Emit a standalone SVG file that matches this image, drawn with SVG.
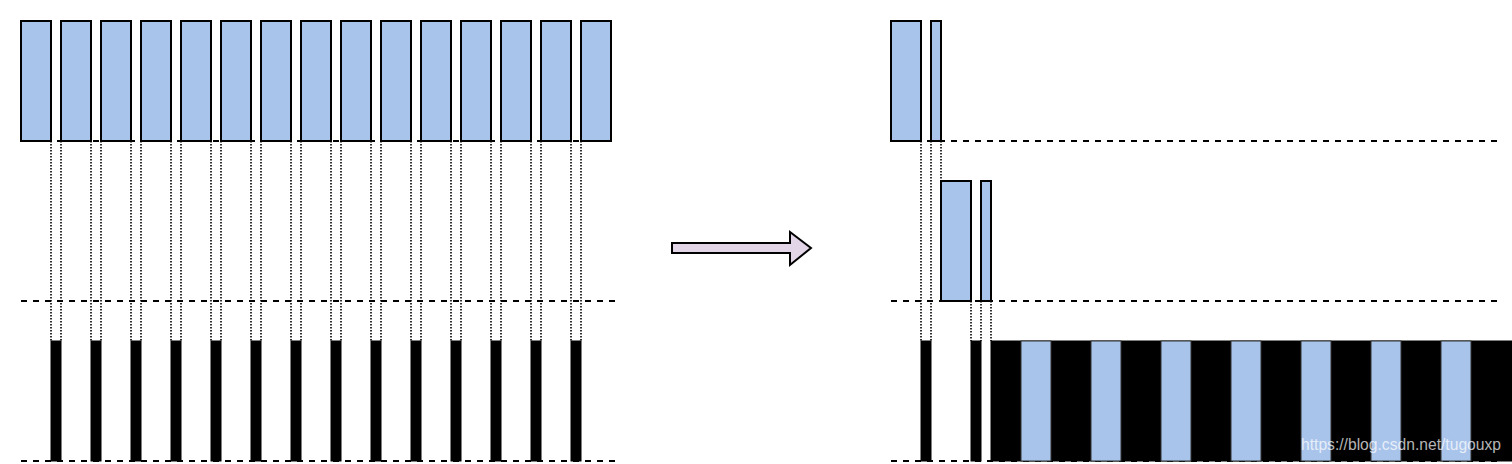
<svg xmlns="http://www.w3.org/2000/svg" width="1512" height="464" viewBox="0 0 1512 464">
<style>
.blue{fill:#a9c4eb;stroke:#000;stroke-width:2}
.blk{fill:#000;stroke:#000;stroke-width:1}
.dash{stroke:#000;stroke-width:2;stroke-dasharray:6 6;fill:none}
.dot{stroke:#000;stroke-width:1.6;stroke-dasharray:1.5 1.5;fill:none}
.wm{font-family:"Liberation Sans",Arial,sans-serif;font-size:16px;fill:#fff;fill-opacity:0.72}
</style>
<rect width="1512" height="464" fill="#fff"/>
<g id="connectors">
<path class="dash" d="M21 141H611M21 301H615M21 461H615M891 141H1497M891 301H1497M891 461H1497"/>
<path class="dot" d="M51 141V341M61 141V341M91 141V341M101 141V341M131 141V341M141 141V341M171 141V341M181 141V341M211 141V341M221 141V341M251 141V341M261 141V341M291 141V341M301 141V341M331 141V341M341 141V341M371 141V341M381 141V341M411 141V341M421 141V341M451 141V341M461 141V341M491 141V341M501 141V341M531 141V341M541 141V341M571 141V341M581 141V341"/>
<path class="dot" d="M921 141V341M931 141V341M941 141V181M971 301V341M981 301V341M991 301V341"/>
</g>
<g id="left-blocks">
<rect class="blue" x="21" y="21" width="30" height="120"/>
<rect class="blue" x="61" y="21" width="30" height="120"/>
<rect class="blue" x="101" y="21" width="30" height="120"/>
<rect class="blue" x="141" y="21" width="30" height="120"/>
<rect class="blue" x="181" y="21" width="30" height="120"/>
<rect class="blue" x="221" y="21" width="30" height="120"/>
<rect class="blue" x="261" y="21" width="30" height="120"/>
<rect class="blue" x="301" y="21" width="30" height="120"/>
<rect class="blue" x="341" y="21" width="30" height="120"/>
<rect class="blue" x="381" y="21" width="30" height="120"/>
<rect class="blue" x="421" y="21" width="30" height="120"/>
<rect class="blue" x="461" y="21" width="30" height="120"/>
<rect class="blue" x="501" y="21" width="30" height="120"/>
<rect class="blue" x="541" y="21" width="30" height="120"/>
<rect class="blue" x="581" y="21" width="30" height="120"/>
</g>
<g id="left-bars">
<rect class="blk" x="51" y="341" width="10" height="120"/>
<rect class="blk" x="91" y="341" width="10" height="120"/>
<rect class="blk" x="131" y="341" width="10" height="120"/>
<rect class="blk" x="171" y="341" width="10" height="120"/>
<rect class="blk" x="211" y="341" width="10" height="120"/>
<rect class="blk" x="251" y="341" width="10" height="120"/>
<rect class="blk" x="291" y="341" width="10" height="120"/>
<rect class="blk" x="331" y="341" width="10" height="120"/>
<rect class="blk" x="371" y="341" width="10" height="120"/>
<rect class="blk" x="411" y="341" width="10" height="120"/>
<rect class="blk" x="451" y="341" width="10" height="120"/>
<rect class="blk" x="491" y="341" width="10" height="120"/>
<rect class="blk" x="531" y="341" width="10" height="120"/>
<rect class="blk" x="571" y="341" width="10" height="120"/>
</g>
<g id="arrow">
<polygon points="672,243 790,243 790,232 811,248 790,265 790,253 672,253" fill="#e1d5e7" stroke="#000" stroke-width="2"/>
</g>
<g id="right-row1">
<rect class="blue" x="891" y="21" width="30" height="120"/>
<rect class="blue" x="931" y="21" width="10" height="120"/>
</g>
<g id="right-row2">
<rect class="blue" x="941" y="181" width="30" height="120"/>
<rect class="blue" x="981" y="181" width="10" height="120"/>
</g>
<g id="right-row3">
<rect class="blk" x="921" y="341" width="10" height="120"/>
<rect class="blk" x="971" y="341" width="10" height="120"/>
<rect class="blk" x="991" y="341" width="521" height="120"/>
<rect x="1021" y="341" width="30" height="120" fill="#a9c4eb" stroke="#333" stroke-width="1"/>
<rect x="1091" y="341" width="30" height="120" fill="#a9c4eb" stroke="#333" stroke-width="1"/>
<rect x="1161" y="341" width="30" height="120" fill="#a9c4eb" stroke="#333" stroke-width="1"/>
<rect x="1231" y="341" width="30" height="120" fill="#a9c4eb" stroke="#333" stroke-width="1"/>
<rect x="1301" y="341" width="30" height="120" fill="#a9c4eb" stroke="#333" stroke-width="1"/>
<rect x="1371" y="341" width="30" height="120" fill="#a9c4eb" stroke="#333" stroke-width="1"/>
<rect x="1441" y="341" width="30" height="120" fill="#a9c4eb" stroke="#333" stroke-width="1"/>
</g>
<text class="wm" x="1301" y="450" textLength="200" lengthAdjust="spacingAndGlyphs">https://blog.csdn.net/tugouxp</text>
</svg>
